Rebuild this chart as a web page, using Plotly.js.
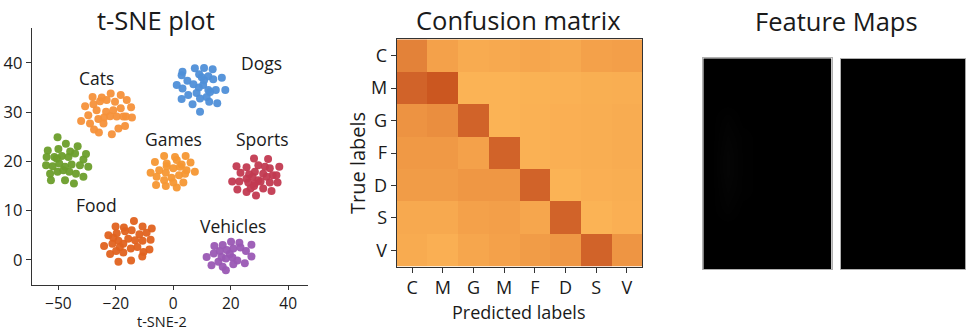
<!DOCTYPE html>
<html>
<head>
<meta charset="utf-8">
<script src="https://cdn.plot.ly/plotly-3.0.1.min.js"></script>
<style>html,body{margin:0;padding:0;background:#fff;}#chart{width:966px;height:333px;}</style>
</head>
<body>
<div id="chart"></div>
<script>
// ---------- t-SNE data (x on an evenly spaced tick scale) ----------
const dogsX = [3.2,2.9,7.5,10.7,13.7,16.9,9.0,9.9,12.2,13.9,1.2,3.2,4.9,7.0,8.9,10.4,12.2,14.8,18.1,2.9,5.2,8.1,9.3,11.6,12.5,15.3,6.7,9.3,12.8,10.7];
const dogsY = [38.2,37.5,38.9,39.0,38.7,37.0,37.7,37.1,37.3,36.7,35.5,34.8,36.4,35.7,35.0,35.5,34.5,34.5,34.5,32.7,33.5,33.9,32.8,33.1,32.1,31.8,31.6,30.1,34.1,36.5];
const catsX = [-28.1,-24.9,-21.8,-18.3,-30.7,-27.8,-25.5,-23.2,-20.3,-16.2,-14.7,-32.1,-29.6,-26.7,-23.4,-20.9,-18.3,-16.5,-14.4,-29.0,-26.1,-24.1,-22.0,-19.7,-17.4,-25.9,-21.4,-19.1,-16.8,-27.6,-24.3];
const catsY = [33.1,33.0,33.8,33.5,31.2,31.6,32.2,32.5,32.1,32.5,31.0,28.2,29.4,30.4,30.1,30.4,30.8,29.1,28.9,27.7,28.6,28.9,29.2,29.1,29.1,25.9,25.5,26.7,27.2,26.5,27.7];
const greenX = [-40.3,-37.4,-33.3,-43.7,-40.0,-35.9,-34.2,-30.4,-44.1,-41.4,-38.8,-36.5,-31.3,-44.3,-42.0,-39.7,-37.7,-35.4,-32.5,-29.6,-42.9,-40.3,-38.3,-36.2,-33.9,-31.3,-42.6,-37.7,-34.6,-40.6];
const greenY = [24.9,23.6,23.1,22.2,22.5,22.0,21.6,21.5,20.9,20.9,21.1,20.9,20.4,19.2,19.0,19.6,18.9,19.4,19.2,18.9,17.5,17.9,18.2,17.9,17.5,16.9,16.2,16.2,15.5,20.6];
const gamesX = [-3.2,0.6,4.3,-6.4,-2.3,1.2,2.9,6.0,-7.9,-4.9,-2.6,0.0,2.3,4.6,7.5,-5.8,-3.2,-0.6,2.0,4.1,-6.0,-2.6,1.2,3.5,0.0,-2.3];
const gamesY = [21.1,20.9,21.1,19.9,19.6,20.3,19.4,19.8,17.7,18.2,17.7,18.6,18.9,18.2,17.9,16.9,16.2,16.7,17.2,17.5,15.2,15.0,14.7,15.7,15.7,19.0];
const sportsX = [28.1,33.0,22.0,25.5,29.6,31.9,33.6,36.9,23.4,26.4,28.4,31.3,34.6,25.5,27.6,29.6,32.5,35.9,20.5,23.0,26.1,28.4,30.4,33.6,36.3,22.3,25.5,28.1,31.3,34.2,28.8,26.9];
const sportsY = [20.6,20.5,19.0,18.8,19.2,18.9,18.6,18.9,17.7,17.4,17.9,17.5,17.2,16.5,16.9,16.2,16.9,17.2,15.9,15.9,15.7,15.5,15.9,15.7,15.7,14.3,13.8,15.0,14.5,14.0,13.1,14.5];
const foodX = [-20.1,-17.2,-13.7,-10.7,-7.5,-22.6,-19.7,-16.8,-14.5,-11.8,-9.3,-24.1,-21.2,-19.1,-17.4,-15.7,-13.3,-10.7,-7.9,-22.0,-19.9,-17.4,-14.8,-12.5,-10.4,-8.3,-19.1,-14.7,-10.8,-18.6,-20.9];
const foodY = [6.8,6.6,7.9,6.8,6.4,5.0,5.4,5.8,6.0,5.2,5.5,2.8,3.3,3.9,3.3,4.3,4.0,3.9,4.1,1.2,1.8,1.5,2.3,2.6,1.6,2.1,-0.4,-0.1,0.7,2.6,4.5];
const vehX = [14.3,17.2,20.1,23.0,27.2,11.6,14.1,16.2,18.6,20.9,23.4,25.3,27.2,13.3,15.7,18.3,20.6,22.3,24.9,17.2,20.9,18.3,19.7,16.8];
const vehY = [2.8,3.0,3.7,3.5,3.1,0.6,1.3,1.8,2.0,2.3,2.5,1.8,0.7,-1.1,-0.4,0.3,0.5,-0.1,-0.7,-1.4,-0.9,-2.1,1.2,0.6];

const clusterNames = ["Cats","Dogs","Games","Sports","Food","Vehicles"];
const tsneXTickVals = [-40,-20,0,20,40];
const tsneXTickText = ["\u221250","\u221220","0","20","40"];
const tsneYTickVals = [0,10,20,30,40];

// ---------- Confusion matrix ----------
const cmPred = ["C","M","G","M","F","D","S","V"];
const cmTrue = ["C","M","G","F","D","S","V"];
const cmValues = [
  [0.62,0.30,0.20,0.22,0.25,0.22,0.30,0.32],
  [0.86,0.96,0.05,0.05,0.08,0.10,0.13,0.15],
  [0.45,0.50,0.86,0.05,0.10,0.12,0.15,0.18],
  [0.38,0.38,0.30,0.86,0.10,0.12,0.15,0.18],
  [0.35,0.35,0.40,0.40,0.86,0.05,0.12,0.15],
  [0.22,0.22,0.30,0.32,0.25,0.86,0.05,0.12],
  [0.20,0.12,0.25,0.30,0.35,0.40,0.86,0.42]
];

// ---------- Feature maps (grayscale intensities) ----------
const featureMap1 = [
  [0,0,0,0,0,0,0,0],
  [0,0,0,0,0,0,0,0],
  [0,0,0,0,0,0,0,0],
  [0,0.01,0,0,0,0,0,0],
  [0,0.015,0.005,0,0,0,0,0],
  [0,0.02,0.005,0,0,0,0,0],
  [0,0.02,0.005,0,0,0,0,0],
  [0,0.015,0.005,0,0,0,0,0],
  [0,0.01,0,0,0,0,0,0],
  [0,0,0,0,0,0,0,0],
  [0,0,0,0,0,0,0,0],
  [0,0,0,0,0,0,0,0]
];
const featureMap2 = [
  [0,0,0,0,0,0,0,0],
  [0,0,0,0,0,0,0,0],
  [0,0,0,0,0,0,0,0],
  [0,0,0,0,0,0,0,0],
  [0,0,0,0,0,0,0,0],
  [0,0,0,0,0,0,0,0],
  [0,0,0,0,0,0,0,0],
  [0,0,0,0,0,0,0,0],
  [0,0,0,0,0,0,0,0],
  [0,0,0,0,0,0,0,0],
  [0,0,0,0,0,0,0,0],
  [0,0,0,0,0,0,0,0]
];

const FONT = "Open Sans, DejaVu Sans, sans-serif";
const TXT = "#1a1a1a";

function cluster(x, y, color) {
  return {type:"scatter", mode:"markers", x:x, y:y, xaxis:"x", yaxis:"y",
    marker:{size:8, color:color, opacity:0.95}, hoverinfo:"skip", showlegend:false};
}

const traces = [
  cluster(dogsX, dogsY, "#4f8fd8"),
  cluster(catsX, catsY, "#f5913a"),
  cluster(greenX, greenY, "#6b9e2b"),
  cluster(gamesX, gamesY, "#f59733"),
  cluster(sportsX, sportsY, "#c23a51"),
  cluster(foodX, foodY, "#e0621f"),
  cluster(vehX, vehY, "#9a58b4"),
  {type:"heatmap", z:cmValues, x:cmPred.map((_,i)=>i), y:cmTrue.map((_,i)=>i),
   xaxis:"x2", yaxis:"y2", zmin:0, zmax:1, showscale:false, hoverinfo:"skip",
   colorscale:[[0,"#fcb657"],[0.2,"#f8ab50"],[0.4,"#ef9744"],[0.6,"#e5853a"],[0.85,"#d2642a"],[1,"#c8521c"]]},
  {type:"heatmap", z:featureMap1, xaxis:"x3", yaxis:"y3", zmin:0, zmax:1, zsmooth:"best",
   showscale:false, hoverinfo:"skip", colorscale:[[0,"#000"],[1,"#fff"]]},
  {type:"heatmap", z:featureMap2, xaxis:"x4", yaxis:"y4", zmin:0, zmax:1, zsmooth:"best",
   showscale:false, hoverinfo:"skip", colorscale:[[0,"#000"],[1,"#fff"]]}
];

const labelPos = {Cats:[-26.7,36.9], Dogs:[30.7,40.0], Games:[0.2,24.6], Sports:[31.0,24.6], Food:[-26.7,11.1], Vehicles:[20.9,6.8]};

const annotations = clusterNames.map(n => ({
  text:n, x:labelPos[n][0], y:labelPos[n][1], xref:"x", yref:"y", showarrow:false,
  font:{family:FONT, size:17.5, color:TXT}
}));
function ptitle(text, x, y, size, extra) {
  return Object.assign({text:text, x:x/966, y:1-y/333, xref:"paper", yref:"paper", showarrow:false,
    xanchor:"center", yanchor:"middle", font:{family:FONT, size:size, color:TXT}}, extra||{});
}
annotations.push(ptitle("t-SNE plot", 156, 20, 25.5));
annotations.push(ptitle("t-SNE-2", 162, 321.5, 14.5));
annotations.push(ptitle("Confusion matrix", 518, 20, 25.5));
annotations.push(ptitle("Predicted labels", 518, 312, 18));
annotations.push(ptitle("True labels", 357, 163, 20, {textangle:-90}));
annotations.push(ptitle("Feature Maps", 836, 21, 25.5));

const hidden = {showticklabels:false, ticks:"", showgrid:false, zeroline:false,
  showline:true, mirror:true, linecolor:"#b0b0b0", linewidth:1};

const layout = {
  width:966, height:333, margin:{l:0,r:0,t:0,b:0},
  paper_bgcolor:"#fff", plot_bgcolor:"rgba(0,0,0,0)", showlegend:false,
  font:{family:FONT, color:TXT},
  xaxis:{domain:[31.7/966, 308.3/966], range:[-49.3,47.0], tickvals:tsneXTickVals, ticktext:tsneXTickText,
    ticks:"outside", ticklen:4, tickcolor:"#333", showline:true, linecolor:"#333", linewidth:1,
    showgrid:false, zeroline:false, tickfont:{family:FONT, size:15.5, color:TXT}, anchor:"y"},
  yaxis:{domain:[1-285/333, 1-28/333], range:[-5.1,47.1], tickvals:tsneYTickVals,
    ticks:"outside", ticklen:5, tickcolor:"#333", showline:true, linecolor:"#333", linewidth:1,
    showgrid:false, zeroline:false, tickfont:{family:FONT, size:16.5, color:TXT}, anchor:"x"},
  xaxis2:{domain:[396.7/966, 642.3/966], range:[-0.5,7.5], tickvals:cmPred.map((_,i)=>i), ticktext:cmPred,
    ticks:"outside", ticklen:5, tickcolor:"#333", showline:true, mirror:true, linecolor:"#333", linewidth:1,
    showgrid:false, zeroline:false, tickfont:{family:FONT, size:18, color:TXT}, anchor:"y2"},
  yaxis2:{domain:[1-266.7/333, 1-39.3/333], range:[6.5,-0.5], tickvals:cmTrue.map((_,i)=>i), ticktext:cmTrue,
    ticks:"outside", ticklen:5, tickcolor:"#333", showline:true, mirror:true, linecolor:"#333", linewidth:1,
    showgrid:false, zeroline:false, tickfont:{family:FONT, size:18, color:TXT}, anchor:"x2"},
  xaxis3:Object.assign({domain:[703.3/966, 831.7/966], range:[-0.5,7.5], anchor:"y3"}, hidden),
  yaxis3:Object.assign({domain:[1-269.3/333, 1-58.3/333], range:[11.5,-0.5], anchor:"x3"}, hidden),
  xaxis4:Object.assign({domain:[840.7/966, 965.5/966], range:[-0.5,7.5], anchor:"y4"}, hidden),
  yaxis4:Object.assign({domain:[1-269.3/333, 1-59/333], range:[11.5,-0.5], anchor:"x4"}, hidden),
  annotations:annotations
};

Plotly.newPlot("chart", traces, layout, {displayModeBar:false, staticPlot:true});
</script>
</body>
</html>
